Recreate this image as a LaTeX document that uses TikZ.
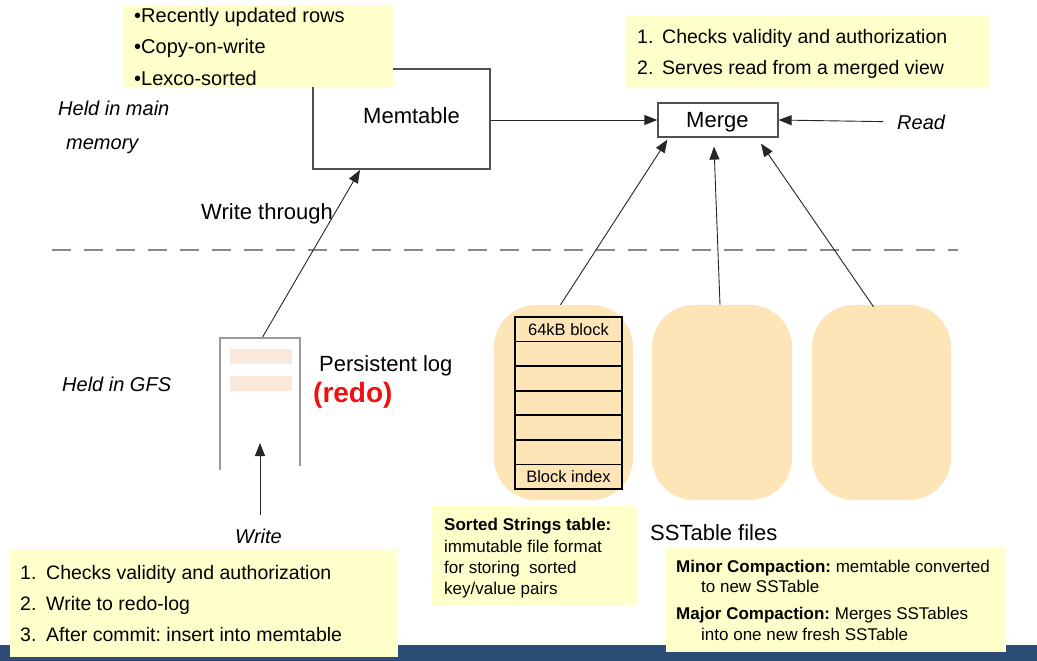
\documentclass[tikz,border=0pt]{standalone}
\usepackage{fontspec}
\setmainfont{Liberation Sans}
\usetikzlibrary{arrows.meta,calc}
\definecolor{notebg}{HTML}{FFFFCC}
\definecolor{blobfill}{HTML}{FDE5B7}
\definecolor{logbar}{HTML}{F9E8DC}
\definecolor{bluebar}{HTML}{2B4C74}
\definecolor{boxline}{HTML}{505050}
\definecolor{dashgray}{HTML}{8A8A8A}
\definecolor{redotext}{HTML}{EE1111}
\newcommand\fsz[1]{\fontsize{#1}{#1}\selectfont}
\frenchspacing
\begin{document}
\begin{tikzpicture}[x=1pt,y=-1pt,
  box/.style={draw=boxline, line width=1.2pt, fill=white, inner sep=0pt},
  note/.style={fill=notebg, inner sep=0pt, anchor=north west},
  blob/.style={fill=blobfill, rounded corners=42pt, minimum height=195pt, inner sep=0pt},
  cell/.style={draw=black, line width=1.6pt, minimum width=107pt, minimum height=24.57pt, inner sep=0pt},
  conn/.style={draw=black!85, line width=0.9pt, -{Triangle[length=13pt,width=10pt]}},
  txt/.style={anchor=base west, inner sep=0pt},
  txc/.style={anchor=base, inner sep=0pt},
  logline/.style={draw=gray!80, line width=1.6pt},
  dashline/.style={draw=dashgray, line width=1.6pt, dash pattern=on 19pt off 13pt}]
\useasboundingbox (0,0) rectangle (1037,661);
\fill[white] (0,0) rectangle (1037,661);
\fill[bluebar] (0,645) rectangle (1037,661);

% separator
\draw[dashline] (52,250) -- (958,250);

% memtable
\node[box, minimum width=177pt, minimum height=100pt] (mem) at (401.5,119) {};
\node[txt, font=\fsz{22}] (memlbl) at (363,124) {Memtable};

% note top-left
\node[note, minimum width=270pt, minimum height=82pt] (n1) at (123,5) {};
\node[txt, font=\fsz{20}] (n1a) at (134,23) {•Recently updated rows};
\node[txt, font=\fsz{20}] (n1b) at (134,54) {•Copy-on-write};
\node[txt, font=\fsz{20}] (n1c) at (134,85) {•Lexco-sorted};

% layer labels
\node[txt, font=\fsz{20}\itshape] (hm1) at (58,116) {Held in main};
\node[txt, font=\fsz{20}\itshape] (hm2) at (66,149) {memory};
\node[txt, font=\fsz{20}\itshape] (hg) at (62,391) {Held in GFS};

% merge
\node[box, minimum width=120pt, minimum height=34pt] (merge) at (718,120) {};
\node[txt, font=\fsz{22}] (mergelbl) at (686,128) {Merge};
\node[txt, font=\fsz{20}\itshape] (read) at (897,129) {Read};

% note top-right
\node[note, minimum width=365pt, minimum height=73pt] (n2) at (625,15) {};
\node[txt, font=\fsz{19.5}] (n2a1) at (637,44) {1.};
\node[txt, font=\fsz{19.5}] (n2a) at (662,44) {Checks validity and authorization};
\node[txt, font=\fsz{19.5}] (n2b1) at (637,75) {2.};
\node[txt, font=\fsz{19.5}] (n2b) at (662,75) {Serves read from a merged view};

\draw[conn] (mem.east |- merge.west) -- (merge.west);
\draw[conn, shorten <=14pt] (read.west) -- (merge.east);

% write through
\node[txt, font=\fsz{22}] (wt) at (201,219) {Write through};
\coordinate (logtop) at (262,338);
\coordinate (memin) at (360,170);
\draw[conn] (logtop) -- (memin);

% persistent log
\draw[logline] (220,470) -- (220,338) -- (300,338) -- (300,466);
\fill[logbar] (230,349) rectangle (292,364);
\fill[logbar] (230,376) rectangle (292,391);
\node[txt, font=\fsz{22}] (plog) at (319,371) {Persistent log};
\node[txt, font=\fsz{28}\bfseries, text=redotext] (redo) at (313,402) {(redo)};

% write
\node[txt, font=\fsz{20}\itshape] (write) at (235,543) {Write};
\coordinate (wstart) at (260,515);
\coordinate (login) at (260,443);
\draw[conn] (wstart) -- (login);

% note bottom-left
\node[note, minimum width=388pt, minimum height=108pt] (n3) at (10,549) {};
\node[txt, font=\fsz{19.5}] (n3a1) at (20,579) {1.};
\node[txt, font=\fsz{19.5}] (n3a) at (46,579) {Checks validity and authorization};
\node[txt, font=\fsz{19.5}] (n3b1) at (20,610) {2.};
\node[txt, font=\fsz{19.5}] (n3b) at (46,610) {Write to redo-log};
\node[txt, font=\fsz{19.5}] (n3c1) at (20,641) {3.};
\node[txt, font=\fsz{19.5}] (n3c) at (46,641) {After commit: insert into memtable};

% SSTables
\node[blob, minimum width=139pt] (b1) at (563.5,402.5) {};
\node[blob, minimum width=140pt] (b2) at (722,402.5) {};
\node[blob, minimum width=139pt] (b3) at (881.5,402.5) {};
\foreach \i in {1,...,7} {
  \node[cell] (t\i) at (568.5,{317+24.57*(\i-0.5)}) {};
}
\node[font=\fsz{16.5}, inner sep=0pt] (t1lbl) at (t1) {64kB block};
\node[font=\fsz{16.5}, inner sep=0pt] (t7lbl) at (t7) {Block index};

\draw[conn] ($(b1.north)+(-3,0)$) -- ($(merge.south west)+(10,2)$);
\draw[conn] ($(b2.north)+(-2,0)$) -- ($(merge.south)+(-4,9)$);
\draw[conn] ($(b3.north)+(-8,2)$) -- ($(merge.south)+(43,6)$);

\node[txt, font=\fsz{22}] (ssf) at (650,540) {SSTable files};

% note sorted strings
\node[note, minimum width=206pt, minimum height=99pt] (n4) at (432,506) {};
\node[txt, font=\fsz{17}\bfseries] (n4a) at (444,530) {Sorted Strings table:};
\node[txt, font=\fsz{17}] (n4b) at (444,552) {immutable file format};
\node[txt, font=\fsz{17}] (n4c) at (444,573) {for storing\ \ sorted};
\node[txt, font=\fsz{17}] (n4d) at (444,594) {key/value pairs};

% note compaction
\node[note, minimum width=340pt, minimum height=105pt] (n5) at (666,547) {};
\node[txt, font=\fsz{17}] (n5a) at (676,572) {\textbf{Minor Compaction:} memtable converted};
\node[txt, font=\fsz{17}] (n5b) at (701,592) {to new SSTable};
\node[txt, font=\fsz{17}] (n5c) at (676,619) {\textbf{Major Compaction:} Merges SSTables};
\node[txt, font=\fsz{17}] (n5d) at (701,640) {into one new fresh SSTable};
\end{tikzpicture}
\end{document}
